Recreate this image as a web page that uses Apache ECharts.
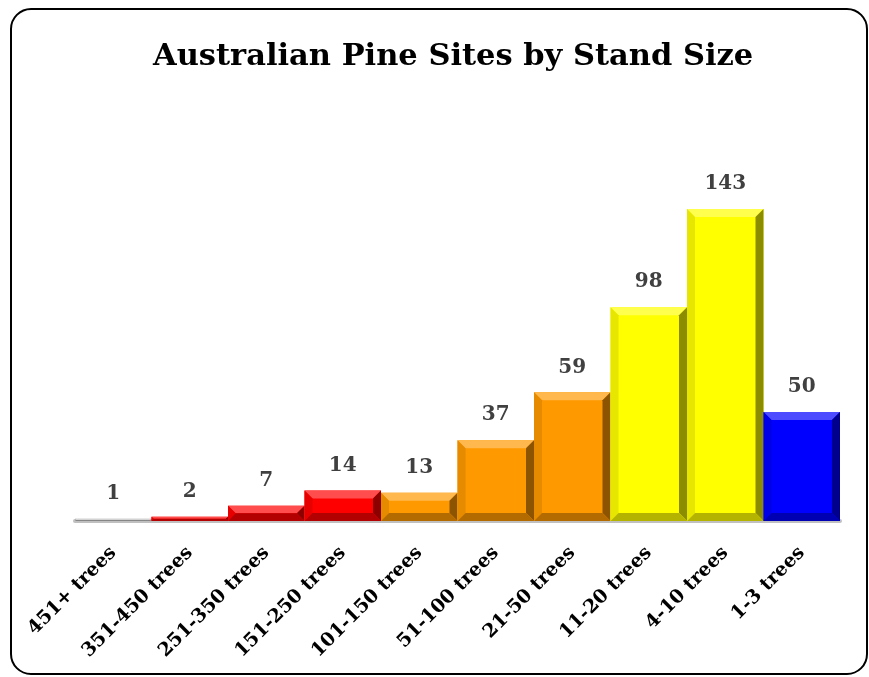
<!DOCTYPE html>
<html>
<head>
<meta charset="utf-8">
<script src="https://cdn.jsdelivr.net/npm/echarts@6/dist/echarts.min.js"></script>
<style>
  html, body { margin: 0; padding: 0; background: #fff; }
  #main { width: 869px; height: 677px; }
</style>
</head>
<body>
<div id="main"></div>
<script>
var categories = ['451+ trees', '351-450 trees', '251-350 trees', '151-250 trees', '101-150 trees',
  '51-100 trees', '21-50 trees', '11-20 trees', '4-10 trees', '1-3 trees'];
var siteCounts = [1, 2, 7, 14, 13, 37, 59, 98, 143, 50];
var barColors = ['#c0c0c0', '#ff0000', '#ff0000', '#ff0000', '#ff9900',
  '#ff9900', '#ff9900', '#ffff00', '#ffff00', '#0000ff'];

var serif = '"DejaVu Serif", "Liberation Serif", serif';

// mix a hex colour toward white (amt>0) or black (amt<0)
function shade(hex, amt) {
  var n = parseInt(hex.slice(1), 16);
  var rgb = [(n >> 16) & 255, (n >> 8) & 255, n & 255];
  var out = rgb.map(function (c) {
    return Math.round(amt > 0 ? c + (255 - c) * amt : c * (1 + amt));
  });
  return 'rgb(' + out.join(',') + ')';
}

var chart = echarts.init(document.getElementById('main'));

function renderBevelBar(params, api) {
  var idx = api.value(0);
  var top = api.coord([idx, api.value(1)]);
  var base = api.coord([idx, 0]);
  var w = api.size([1, 0])[0];
  var x0 = top[0] - w / 2, x1 = top[0] + w / 2;
  var y0 = top[1], y1 = base[1];
  var h = y1 - y0;
  var b = Math.min(8, h / 2, w / 2);
  var c = barColors[idx];
  var children = [
    { type: 'rect', shape: { x: x0, y: y0, width: w, height: h }, style: { fill: c } }
  ];
  if (b > 0.5) {
    children.push(
      { type: 'polygon', shape: { points: [[x0, y0], [x1, y0], [x1 - b, y0 + b], [x0 + b, y0 + b]] },
        style: { fill: shade(c, 0.3) } },
      { type: 'polygon', shape: { points: [[x0, y0], [x0 + b, y0 + b], [x0 + b, y1 - b], [x0, y1]] },
        style: { fill: shade(c, -0.1) } },
      { type: 'polygon', shape: { points: [[x1, y0], [x1, y1], [x1 - b, y1 - b], [x1 - b, y0 + b]] },
        style: { fill: shade(c, -0.45) } },
      { type: 'polygon', shape: { points: [[x0, y1], [x0 + b, y1 - b], [x1 - b, y1 - b], [x1, y1]] },
        style: { fill: shade(c, -0.3) } }
    );
  }
  return { type: 'group', children: children };
}

var option = {
  backgroundColor: '#fff',
  animation: false,
  title: {
    text: 'Australian Pine Sites by Stand Size',
    left: 148,
    top: 37,
    textStyle: { fontFamily: serif, fontSize: 30.5, fontWeight: 'bold', color: '#000' }
  },
  graphic: [{
    type: 'rect',
    shape: { x: 11, y: 9, width: 856, height: 665, r: 20 },
    style: { fill: 'none', stroke: '#000', lineWidth: 2 },
    z: 100
  }],
  grid: { left: 75, right: 29, top: 172, bottom: 156 },
  xAxis: {
    type: 'category',
    data: categories,
    axisLine: { lineStyle: { color: '#c0c0c0', width: 4 } },
    axisTick: { show: false },
    axisLabel: {
      interval: 0,
      rotate: 45,
      margin: 29,
      fontFamily: serif,
      fontSize: 19,
      fontWeight: 'bold',
      color: '#000'
    }
  },
  yAxis: {
    type: 'value',
    min: 0,
    max: 160,
    show: false
  },
  series: [
    {
      type: 'custom',
      renderItem: renderBevelBar,
      encode: { x: 0, y: 1 },
      data: siteCounts.map(function (v, i) { return [i, v]; }),
      z: 3
    },
    {
      type: 'bar',
      data: siteCounts,
      barCategoryGap: 0,
      itemStyle: { color: 'rgba(0,0,0,0)' },
      label: {
        show: true,
        position: 'top',
        distance: 15,
        fontFamily: serif,
        fontSize: 20,
        fontWeight: 'bold',
        color: '#404040'
      },
      z: 4
    }
  ]
};

chart.setOption(option);
</script>
</body>
</html>
